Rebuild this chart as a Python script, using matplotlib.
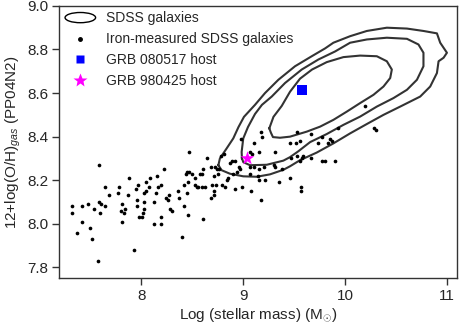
import matplotlib
matplotlib.use('Agg')
import matplotlib.pyplot as plt
import matplotlib.patches as mpatches
from matplotlib.lines import Line2D
from matplotlib.legend_handler import HandlerPatch

plt.rcParams['font.family'] = ['Liberation Sans', 'DejaVu Sans']
plt.rcParams['mathtext.fontset'] = 'custom'
plt.rcParams['mathtext.rm'] = 'Liberation Sans'
plt.rcParams['mathtext.it'] = 'Liberation Sans:italic'
plt.rcParams['text.color'] = '#262626'
plt.rcParams['axes.labelcolor'] = '#262626'
plt.rcParams['xtick.color'] = '#262626'
plt.rcParams['ytick.color'] = '#262626'

# iron-measured SDSS galaxies (log M*, 12+log(O/H))
mass = [7.59, 7.88, 7.65, 7.78, 7.77, 7.69, 7.87, 7.95, 7.97, 8.05,
        8.09, 8.16, 8.17, 8.08, 8.05, 8.03, 8.15, 7.96, 8.03, 8.13,
        7.32, 7.32, 7.42, 7.48, 7.54, 7.59, 7.61, 7.65, 7.60, 7.81,
        7.80, 7.84, 7.83, 7.96, 8.03, 8.02, 7.98, 8.01, 7.42, 7.81,
        7.37, 7.50, 7.52, 8.13, 7.93, 7.58,
        8.47, 8.22, 8.65, 8.68, 8.72, 8.74, 8.76, 8.75, 8.71, 8.61,
        8.60, 8.58, 8.45, 8.47, 8.44, 8.50, 8.53, 8.19, 8.24, 8.26,
        8.27, 8.28, 8.30, 8.36, 8.37, 8.42, 8.46, 8.45, 8.53, 8.55,
        8.56, 8.60, 8.63, 8.69, 8.71, 8.71, 8.68, 8.73, 8.42, 8.46,
        8.61, 8.19, 8.19, 8.40,
        9.17, 9.18, 8.98, 9.11, 9.53, 9.66, 9.77, 9.85, 9.46, 9.52,
        9.56, 9.73, 9.83, 9.87, 9.31, 9.16, 9.07, 9.09, 9.47, 9.53,
        9.56, 9.58, 9.59, 9.66, 9.77, 9.80, 9.90, 9.30, 9.31, 9.38,
        8.89, 8.92, 8.87, 8.81, 8.78, 8.96, 8.97, 8.90, 8.94, 9.07,
        9.11, 9.07, 9.16, 9.20, 9.15, 9.16, 9.21, 9.35, 9.46, 9.57,
        9.57, 9.08, 9.17, 8.99, 8.92, 8.82, 8.84, 8.79, 8.85, 9.93,
        10.19, 10.28, 10.30]
oh = [8.27, 8.21, 8.17, 8.17, 8.14, 8.13, 8.13, 8.16, 8.18, 8.19,
      8.21, 8.22, 8.17, 8.17, 8.15, 8.14, 8.14, 8.11, 8.10, 8.10,
      8.08, 8.05, 8.08, 8.09, 8.07, 8.10, 8.09, 8.08, 8.05, 8.09,
      8.06, 8.07, 8.05, 8.08, 8.07, 8.05, 8.03, 8.03, 8.01, 8.01,
      7.96, 7.98, 7.93, 8.00, 7.88, 7.83,
      8.33, 8.25, 8.30, 8.26, 8.26, 8.25, 8.25, 8.23, 8.22, 8.25,
      8.23, 8.23, 8.24, 8.24, 8.23, 8.23, 8.21, 8.18, 8.12, 8.11,
      8.13, 8.07, 8.06, 8.15, 8.12, 8.18, 8.19, 8.14, 8.18, 8.17,
      8.17, 8.17, 8.17, 8.18, 8.15, 8.13, 8.12, 8.18, 8.08, 8.04,
      8.02, 8.03, 8.00, 7.94,
      8.42, 8.40, 8.39, 8.37, 8.42, 8.41, 8.40, 8.39, 8.37, 8.37,
      8.38, 8.37, 8.37, 8.38, 8.33, 8.33, 8.33, 8.32, 8.30, 8.31,
      8.29, 8.30, 8.31, 8.30, 8.29, 8.29, 8.29, 8.27, 8.26, 8.25,
      8.29, 8.29, 8.28, 8.32, 8.31, 8.26, 8.25, 8.23, 8.24, 8.26,
      8.26, 8.23, 8.25, 8.26, 8.22, 8.20, 8.20, 8.19, 8.21, 8.17,
      8.15, 8.15, 8.11, 8.17, 8.16, 8.17, 8.20, 8.18, 8.21, 8.44,
      8.54, 8.44, 8.43]

# SDSS galaxy density contours (closed outlines)
outer_x = [8.757, 8.772, 8.838, 8.903, 8.954, 9.008, 9.116, 9.214, 9.345, 9.508,
           9.672, 9.803, 9.884, 10.048, 10.212, 10.408, 10.605, 10.767, 10.899, 10.931,
           10.997, 10.964, 10.915, 10.899, 10.833, 10.735, 10.539, 10.375, 10.212, 10.048,
           9.884, 9.721, 9.557, 9.459, 9.394, 9.263, 9.133, 9.001, 8.870, 8.789, 8.757]
outer_y = [8.269, 8.300, 8.346, 8.392, 8.444, 8.491, 8.546, 8.600, 8.661, 8.723,
           8.769, 8.805, 8.831, 8.861, 8.885, 8.900, 8.896, 8.885, 8.874, 8.831,
           8.785, 8.762, 8.746, 8.692, 8.630, 8.584, 8.538, 8.500, 8.458, 8.415,
           8.369, 8.327, 8.292, 8.264, 8.248, 8.227, 8.216, 8.218, 8.230, 8.246, 8.269]
middle_x = [8.988, 8.985, 9.001, 9.047, 9.116, 9.184, 9.280, 9.410, 9.574, 9.737,
            9.901, 10.048, 10.212, 10.408, 10.605, 10.718, 10.767, 10.767, 10.703, 10.605,
            10.473, 10.310, 10.146, 9.982, 9.819, 9.656, 9.541, 9.459, 9.394, 9.231,
            9.067, 9.001, 8.988]
middle_y = [8.301, 8.330, 8.392, 8.444, 8.504, 8.546, 8.584, 8.646, 8.708, 8.754,
            8.791, 8.831, 8.846, 8.854, 8.849, 8.823, 8.785, 8.723, 8.661, 8.615,
            8.577, 8.538, 8.492, 8.454, 8.412, 8.375, 8.333, 8.306, 8.290, 8.271,
            8.269, 8.283, 8.301]
inner_x = [9.256, 9.273, 9.292, 9.361, 9.459, 9.623, 9.754, 9.884, 10.016, 10.146,
           10.277, 10.375, 10.441, 10.457, 10.408, 10.310, 10.146, 9.982, 9.819, 9.675,
           9.557, 9.459, 9.378, 9.297, 9.256]
inner_y = [8.438, 8.417, 8.398, 8.395, 8.400, 8.423, 8.446, 8.477, 8.515, 8.554,
           8.592, 8.630, 8.669, 8.708, 8.746, 8.769, 8.772, 8.765, 8.742, 8.708,
           8.666, 8.606, 8.541, 8.491, 8.438]

grb080517 = (9.58, 8.615)
grb980425 = (9.04, 8.30)


class HandlerEllipse(HandlerPatch):
    def create_artists(self, legend, orig_handle, xdescent, ydescent,
                       width, height, fontsize, trans):
        center = 0.5 * width - 0.5 * xdescent, 0.5 * height - 0.5 * ydescent
        p = mpatches.Ellipse(xy=center, width=width, height=height * 1.05)
        self.update_prop(p, orig_handle, legend)
        p.set_transform(trans)
        return [p]


fig = plt.figure(figsize=(4.63, 3.28), dpi=100)
ax = fig.add_axes([0.1285, 0.1515, 0.8595, 0.8305])

contour_col = '#333333'
for cx, cy in [(outer_x, outer_y), (middle_x, middle_y), (inner_x, inner_y)]:
    ax.plot(cx, cy, color=contour_col, lw=1.5, solid_joinstyle='round')

ax.scatter(mass, oh, s=7, c='black', lw=0, zorder=3)
ax.scatter([grb080517[0]], [grb080517[1]], marker='s', s=42, c='#0000ff', lw=0, zorder=4)
ax.scatter([grb980425[0]], [grb980425[1]], marker='*', s=110, c='#ff00ff', lw=0, zorder=4)

ax.set_xlim(7.2, 11.1)
ax.set_ylim(7.75, 9.0)
ax.set_xticks([8, 9, 10, 11])
ax.set_yticks([7.8, 8.0, 8.2, 8.4, 8.6, 8.8, 9.0])
ax.set_yticklabels(['7.8', '8.0', '8.2', '8.4', '8.6', '8.8', '9.0'])
ax.tick_params(axis='both', labelsize=11, direction='out', length=5, width=1,
               color='#333333', pad=3)
for sp in ax.spines.values():
    sp.set_color('#333333')
    sp.set_linewidth(1.0)

ax.set_xlabel(r'Log (stellar mass) (M$_{\odot}$)', fontsize=11, labelpad=2)
ax.set_ylabel(r'12+log(O/H)$_{gas}$ (PP04N2)', fontsize=11, labelpad=3)

ell = mpatches.Ellipse((0, 0), 1, 1, facecolor='none', edgecolor='black', lw=1.0)
dot = Line2D([], [], ls='none', marker='o', ms=2.5, color='black')
sq = Line2D([], [], ls='none', marker='s', ms=6.3, color='#0000ff', mec='none')
star = Line2D([], [], ls='none', marker='*', ms=10, color='#ff00ff', mec='none')
ax.legend([ell, dot, sq, star],
          ['SDSS galaxies', 'Iron-measured SDSS galaxies', 'GRB 080517 host', 'GRB 980425 host'],
          handler_map={mpatches.Ellipse: HandlerEllipse()},
          loc='upper left', frameon=False, fontsize=10, handlelength=2.2,
          handletextpad=0.75, labelspacing=0.5, borderaxespad=0.1, borderpad=0.3)

fig.savefig('out.png', dpi=100)
